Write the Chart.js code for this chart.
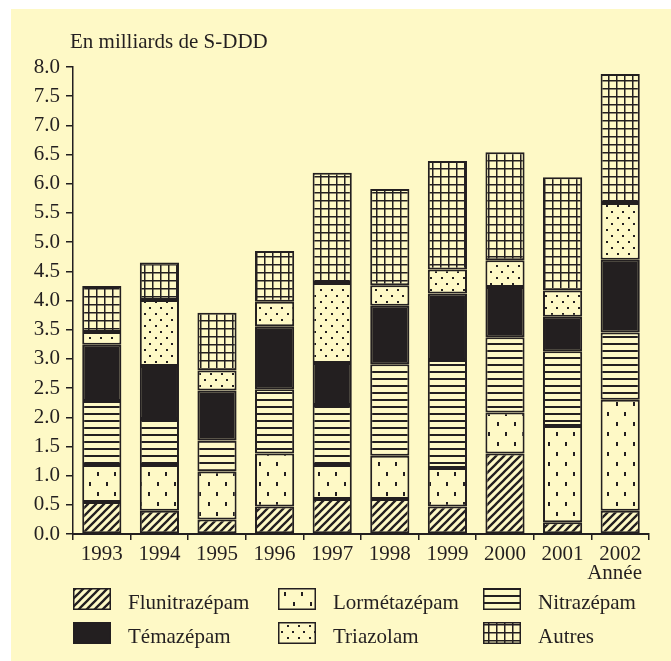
<!DOCTYPE html>
<html>
<head>
<meta charset="utf-8">
<script src="https://cdn.jsdelivr.net/npm/chart.js@4/dist/chart.umd.min.js"></script>
<style>
html,body{margin:0;padding:0;background:#ffffff;}
#wrap{position:relative;width:671px;height:661px;}
canvas{display:block;}
</style>
</head>
<body>
<div id="wrap"><canvas id="c" width="671" height="661"></canvas></div>
<script>
// ---- DATA ----
const years = ['1993','1994','1995','1996','1997','1998','1999','2000','2001','2002'];
const seriesNames = ['Flunitrazépam','Lormétazépam','Nitrazépam','Témazépam','Triazolam','Autres'];
const flunitrazepam = [0.55,0.40,0.25,0.47,0.60,0.60,0.47,1.38,0.20,0.40];
const lormetazepam  = [0.63,0.78,0.82,0.91,0.58,0.74,0.66,0.70,1.65,1.90];
const nitrazepam    = [1.10,0.79,0.53,1.10,1.03,1.57,1.85,1.29,1.28,1.15];
const temazepam     = [0.96,0.91,0.86,1.08,0.72,1.00,1.14,0.86,0.59,1.25];
const triazolam     = [0.22,1.13,0.34,0.42,1.37,0.35,0.41,0.46,0.45,0.97];
const autres        = [0.79,0.64,0.99,0.87,1.89,1.65,1.86,1.85,1.94,2.21];
const yTicks = [0,0.5,1,1.5,2,2.5,3,3.5,4,4.5,5,5.5,6,6.5,7,7.5,8];
const yTitle = 'En milliards de S-DDD';
const xTitle = 'Année';

// ---- STYLE ----
const BG = '#fef9c6';
const INK = '#231f20';
const FONT = "'Liberation Serif', 'Times New Roman', serif";

const mainCtx = document.getElementById('c').getContext('2d');
function makePattern(w, h, draw) {
  const c = document.createElement('canvas');
  c.width = w; c.height = h;
  const g = c.getContext('2d');
  g.fillStyle = BG; g.fillRect(0, 0, w, h);
  g.fillStyle = INK; g.strokeStyle = INK;
  draw(g, w, h);
  return mainCtx.createPattern(c, 'repeat');
}
const patHatch = makePattern(8, 8, (g) => {
  g.lineWidth = 2.3; g.lineCap = 'square';
  g.beginPath();
  g.moveTo(-2, 10); g.lineTo(10, -2);
  g.moveTo(-2, 2); g.lineTo(2, -2);
  g.moveTo(6, 10); g.lineTo(10, 6);
  g.stroke();
});
const patDash = makePattern(17, 20, (g) => {
  g.fillRect(4, 2, 2, 4);
  g.fillRect(12, 12, 2, 4);
});
const patHoriz = makePattern(4, 7, (g) => {
  g.fillRect(0, 0, 4, 2);
});
const patDots = makePattern(11, 12, (g) => {
  g.fillRect(1, 1, 2, 2);
  g.fillRect(6, 7, 2, 2);
});
const patGrid = makePattern(8, 8, (g) => {
  g.fillRect(0, 0, 8, 1.5);
  g.fillRect(0, 0, 1.5, 8);
});
const fills = [patHatch, patDash, patHoriz, INK, patDots, patGrid];
const values = [flunitrazepam, lormetazepam, nitrazepam, temazepam, triazolam, autres];

const datasets = seriesNames.map((name, i) => ({
  label: name,
  data: values[i],
  backgroundColor: fills[i],
  borderColor: INK,
  borderWidth: 2,
  borderSkipped: false,
  categoryPercentage: 1,
  barPercentage: 0.68
}));

const decorPlugin = {
  id: 'decor',
  beforeDraw(chart) {
    const ctx = chart.ctx;
    ctx.save();
    ctx.fillStyle = '#ffffff';
    ctx.fillRect(0, 0, chart.width, chart.height);
    ctx.fillStyle = BG;
    ctx.fillRect(11, 9, chart.width - 11, chart.height - 9);
    ctx.restore();
  },
  afterDraw(chart) {
    const ctx = chart.ctx;
    ctx.save();
    ctx.fillStyle = INK;
    ctx.font = '21px ' + FONT;
    ctx.textBaseline = 'alphabetic';
    ctx.textAlign = 'left';
    ctx.fillText(yTitle, 70, 48);
    ctx.textAlign = 'right';
    ctx.fillText(xTitle, 642, 579);
    // legend
    const colBox = [73, 278, 483];
    const rowBox = [588, 622];
    ctx.textAlign = 'left';
    chart.data.datasets.forEach((ds, i) => {
      const col = i % 3, row = Math.floor(i / 3);
      const x = colBox[col], y = rowBox[row];
      ctx.fillStyle = ds.backgroundColor;
      ctx.fillRect(x, y, 38, 22);
      ctx.strokeStyle = INK; ctx.lineWidth = 1.5;
      ctx.strokeRect(x + 0.75, y + 0.75, 36.5, 20.5);
      ctx.fillStyle = INK;
      ctx.fillText(ds.label, x + 55, y + 20.5);
    });
    ctx.restore();
  }
};

Chart.defaults.font.family = FONT;
Chart.defaults.font.size = 21;
Chart.defaults.color = INK;

new Chart(mainCtx, {
  type: 'bar',
  data: { labels: years, datasets: datasets },
  options: {
    responsive: false,
    animation: false,
    devicePixelRatio: 1,
    layout: { padding: { left: 0, right: 22, top: 67, bottom: 87 } },
    plugins: { legend: { display: false }, tooltip: { enabled: false }, title: { display: false } },
    scales: {
      x: {
        stacked: true,
        offset: true,
        grid: { drawOnChartArea: false, drawTicks: true, tickLength: 6, offset: true, color: INK, lineWidth: 1.5 },
        border: { display: true, color: INK, width: 2 },
        ticks: { padding: 2, maxRotation: 0, autoSkip: false, font: { size: 21 } },
        afterFit(scale) { scale.height = 40; }
      },
      y: {
        stacked: true,
        min: 0, max: 8,
        afterBuildTicks(scale) { scale.ticks = yTicks.map(v => ({ value: v })); },
        grid: { drawOnChartArea: false, drawTicks: true, tickLength: 7, color: INK, lineWidth: 1.5 },
        border: { display: true, color: INK, width: 1.5 },
        ticks: { padding: 6, callback: (v) => Number(v).toFixed(1), font: { size: 21 } },
        afterFit(scale) { scale.width = 73; }
      }
    }
  },
  plugins: [decorPlugin]
});
</script>
</body>
</html>
